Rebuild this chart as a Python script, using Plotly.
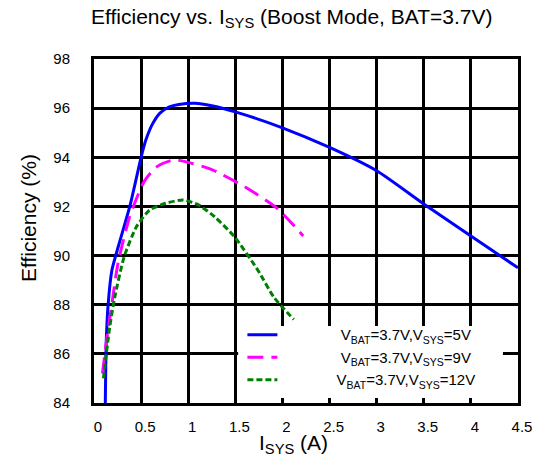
import plotly.graph_objects as go

# Efficiency curves, boost mode, battery at 3.7 V
isys_5v = [0.12, 0.13, 0.15, 0.19, 0.26, 0.38, 0.5, 0.55, 0.62, 0.7, 0.8, 0.9, 1.07, 1.25, 1.5, 2.0, 2.5, 3.0, 3.5, 4.0, 4.5]
eff_5v = [84.0, 86.5, 88.0, 89.4, 90.4, 92.0, 94.0, 94.7, 95.35, 95.8, 96.05, 96.15, 96.2, 96.1, 95.85, 95.2, 94.4, 93.45, 92.1, 90.8, 89.5]

isys_9v = [0.09, 0.13, 0.185, 0.255, 0.38, 0.53, 0.66, 0.85, 1.04, 1.25, 1.6, 1.95, 2.22]
eff_9v = [85.2, 86.45, 87.9, 89.7, 91.6, 93.0, 93.6, 93.9, 93.75, 93.5, 92.8, 91.9, 90.8]

isys_12v = [0.1, 0.167, 0.22, 0.32, 0.45, 0.59, 0.76, 0.95, 1.11, 1.28, 1.49, 1.74, 1.91, 2.12]
eff_12v = [85.0, 87.1, 88.3, 89.95, 91.17, 91.85, 92.13, 92.26, 92.06, 91.58, 90.77, 89.4, 88.3, 87.4]

labels = [
    "V<sub>BAT</sub>=3.7V,V<sub>SYS</sub>=5V",
    "V<sub>BAT</sub>=3.7V,V<sub>SYS</sub>=9V",
    "V<sub>BAT</sub>=3.7V,V<sub>SYS</sub>=12V",
]
x_ticks = [0, 0.5, 1, 1.5, 2, 2.5, 3, 3.5, 4, 4.5]
x_ticktext = ["0", "0.5", "1", "1.5", "2", "2.5", "3", "3.5", "4", "4.5"]
y_ticks = [84, 86, 88, 90, 92, 94, 96, 98]

FONT = "Liberation Sans, Arial, sans-serif"
pad = "\u00a0" * 14

fig = go.Figure()
fig.add_trace(go.Scatter(x=isys_5v, y=eff_5v, mode="lines", name=pad + labels[0],
                         line=dict(color="#0000ff", width=3, shape="spline", smoothing=0.6)))
fig.add_trace(go.Scatter(x=isys_9v, y=eff_9v, mode="lines", name=pad + labels[1],
                         line=dict(color="#ff00ff", width=3, dash="16px,8px", shape="spline", smoothing=0.6)))
fig.add_trace(go.Scatter(x=isys_12v, y=eff_12v, mode="lines", name=pad[:-1] + labels[2],
                         line=dict(color="#008000", width=3, dash="6px,3px", shape="spline", smoothing=0.6)))

# white backing behind the legend, above the grid but below the curves
fig.add_shape(type="rect", xref="x", yref="y", x0=1.53, x1=4.34, y0=84.2, y1=87.13,
              fillcolor="white", line=dict(width=0), layer="between")

axis_common = dict(showgrid=True, gridcolor="black", gridwidth=3, showline=True,
                   linecolor="black", linewidth=3, mirror=True, ticks="", zeroline=False,
                   tickfont=dict(family=FONT, size=15, color="black"))

fig.update_xaxes(range=[0, 4.5], tickvals=x_ticks, ticktext=x_ticktext,
                 ticklabelstandoff=8, ticklabelshift=4, **axis_common)
fig.update_yaxes(range=[84, 98], tickvals=y_ticks, ticklabelstandoff=18, **axis_common)

fig.add_annotation(text="Efficiency vs. I<sub>SYS</sub> (Boost Mode, BAT=3.7V)",
                   xref="paper", yref="paper", x=0.466, y=1.119, showarrow=False,
                   xanchor="center", yanchor="middle", font=dict(family=FONT, size=21, color="black"))
fig.add_annotation(text="I<sub>SYS</sub> (A)", xref="paper", yref="paper", x=0.47, y=-0.119,
                   showarrow=False, xanchor="center", yanchor="middle",
                   font=dict(family=FONT, size=21, color="black"))
fig.add_annotation(text="Efficiency (%)", xref="paper", yref="paper", x=-0.153, y=0.538,
                   showarrow=False, xanchor="center", yanchor="middle", textangle=-90,
                   font=dict(family=FONT, size=21, color="black"))

fig.update_layout(
    width=544, height=460,
    margin=dict(l=94, r=20, t=59, b=57),
    paper_bgcolor="white", plot_bgcolor="white",
    showlegend=True,
    legend=dict(x=0.35, y=0.246, xanchor="left", yanchor="top", bgcolor="rgba(0,0,0,0)",
                borderwidth=0, font=dict(family=FONT, size=15, color="black"),
                tracegroupgap=0),
)

fig.write_html("out.html")
